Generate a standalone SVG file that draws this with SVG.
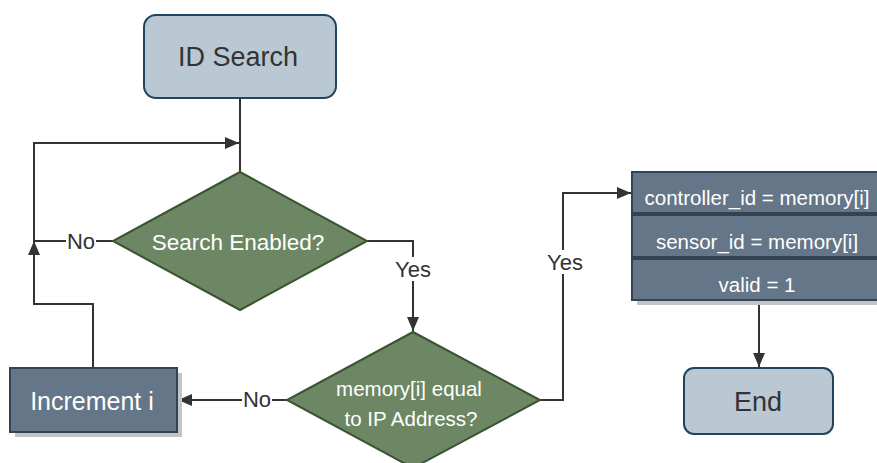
<svg xmlns="http://www.w3.org/2000/svg" width="877" height="463" viewBox="0 0 877 463">
<defs>
<marker id="arr" viewBox="0 0 14 12" refX="14" refY="6" markerWidth="14" markerHeight="12" markerUnits="userSpaceOnUse" orient="auto">
<path d="M0,0 L14,6 L0,12 Z" fill="#333"/>
</marker>
</defs>
<style>
text{font-family:"Liberation Sans",Arial,sans-serif;text-anchor:middle;dominant-baseline:central}
.term{fill:#bac8d3;stroke:#23445d;stroke-width:2}
.term-t{fill:#333;font-size:27px}
.dec{fill:#6d8764;stroke:#3a5431;stroke-width:2}
.proc{fill:#647687;stroke:#314354;stroke-width:2}
.shadow{fill:#c4c4c4}
.wt{fill:#fff}
.edge{fill:none;stroke:#333;stroke-width:2}
.lbl{fill:#333;font-size:22px}
.lblbg{fill:#fff}
</style>
<rect width="877" height="463" fill="#fff"/>
<g id="connectors">
<path class="edge" d="M240,98 L240,172"/>
<path class="edge" d="M113,241 L34,241 L34,143 L239,143" marker-end="url(#arr)"/>
<path class="edge" d="M93,368 L93,304 L34,304 L34,241" marker-end="url(#arr)"/>
<path class="edge" d="M367,241 L413,241 L413,331" marker-end="url(#arr)"/>
<path class="edge" d="M287,400 L178,400" marker-end="url(#arr)"/>
<path class="edge" d="M540,400 L563,400 L563,193 L631,193" marker-end="url(#arr)"/>
<path class="edge" d="M759,300 L759,367" marker-end="url(#arr)"/>
<rect class="lblbg" x="66" y="229" width="30" height="24"/>
<text class="lbl" x="81" y="241">No</text>
<rect class="lblbg" x="394" y="257" width="38" height="24"/>
<text class="lbl" x="413" y="269">Yes</text>
<rect class="lblbg" x="242" y="387" width="30" height="24"/>
<text class="lbl" x="257" y="399">No</text>
<rect class="lblbg" x="546" y="250" width="38" height="24"/>
<text class="lbl" x="565" y="262">Yes</text>
</g>
<g id="id-search">
<rect class="term" x="144" y="15" width="192" height="83" rx="12"/>
<text class="term-t" x="238" y="57">ID Search</text>
</g>
<g id="search-enabled">
<polygon class="dec" points="240,172 367,241 240,310 113,241"/>
<text class="wt" x="238" y="242" font-size="22.5">Search Enabled?</text>
</g>
<g id="memory-equal">
<polygon class="dec" points="413,332 540,400 413,468 287,400"/>
<text class="wt" x="409" y="388" font-size="20.5">memory[i] equal</text>
<text class="wt" x="411" y="418" font-size="20.5">to IP Address?</text>
</g>
<g id="increment">
<rect class="shadow" x="15" y="373" width="167" height="64"/>
<rect class="proc" x="10" y="368" width="167" height="64"/>
<text class="wt" x="92" y="401" font-size="25">Increment i</text>
</g>
<g id="assign">
<rect class="shadow" x="637" y="177" width="250" height="128"/>
<rect class="proc" x="632" y="172" width="250" height="128"/>
<rect class="proc" x="632" y="172" width="250" height="41"/>
<rect class="proc" x="632" y="215" width="250" height="42"/>
<rect class="proc" x="632" y="259" width="250" height="41"/>
<text class="wt" x="757" y="197" font-size="20.5">controller_id = memory[i]</text>
<text class="wt" x="757" y="241" font-size="20.5">sensor_id = memory[i]</text>
<text class="wt" x="757" y="284" font-size="20.5">valid = 1</text>
</g>
<g id="end">
<rect class="term" x="684" y="368" width="149" height="66" rx="10"/>
<text class="term-t" x="758" y="402">End</text>
</g>
</svg>
